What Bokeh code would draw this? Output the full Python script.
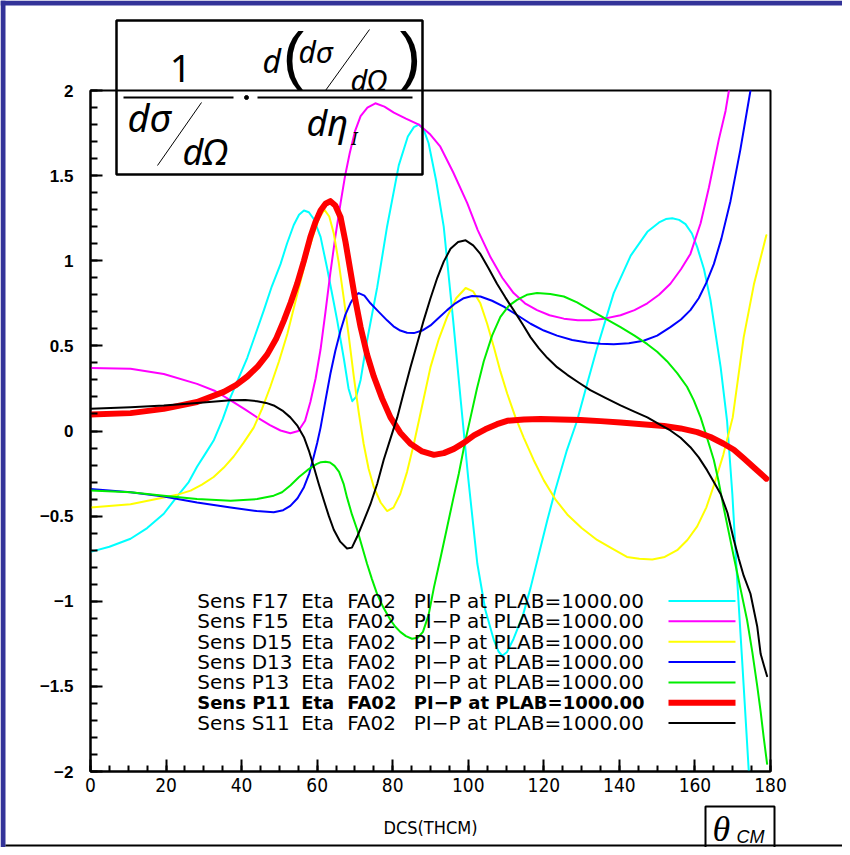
from bokeh.plotting import figure
from bokeh.layouts import column
from bokeh.models import Range1d, FixedTicker, Label, Arrow
from bokeh.core.properties import value
from bokeh.embed import file_html
from bokeh.resources import INLINE

# ---------------- data ----------------
series_names = ["F17", "F15", "D15", "D13", "P13", "P11", "S11"]

f17_x = [0, 5, 10.6, 15, 19.4, 22.9, 26, 28.2, 30.5, 32.6, 35, 37.1, 39.3, 41.5, 43.7, 45.9, 48,
         50.3, 52, 53.8, 55.2, 56.5, 57.8, 59.1, 60.9, 62.6, 64, 65.3, 67.1, 68.3, 69.3, 70.3, 71.5,
         73.2, 75.9, 78.5, 81.6, 84.0, 85.6, 86.9, 88.2, 89.5, 91.5, 93.5, 96.0, 98.0, 100.0, 102.4,
         104.5, 106.8, 108, 109.0, 110.2, 112.0, 114.5, 116.5, 118.5, 120.9, 123.0, 126.0, 128.8,
         131.5, 134.0, 138.5, 143.0, 147.4, 150.5, 152.3, 154.0, 155.8, 157.5, 159.2, 160.6, 162.4,
         164.1, 166.8, 168.5, 169.9, 171.2, 172.5, 174.2, 174.6]
f17_y = [-0.71, -0.68, -0.633, -0.57, -0.486, -0.385, -0.30, -0.21, -0.13, -0.056, 0.07, 0.20, 0.315,
         0.43, 0.57, 0.71, 0.85, 0.98, 1.10, 1.21, 1.27, 1.295, 1.285, 1.245, 1.14, 0.96, 0.80, 0.65,
         0.42, 0.25, 0.175, 0.20, 0.30, 0.53, 0.845, 1.20, 1.56, 1.73, 1.785, 1.80, 1.77, 1.69, 1.47,
         1.20, 0.65, 0.18, -0.28, -0.78, -1.05, -1.23, -1.295, -1.32, -1.30, -1.22, -1.08, -0.92,
         -0.74, -0.526, -0.35, -0.12, 0.06, 0.28, 0.48, 0.81, 1.03, 1.17, 1.225, 1.245, 1.25, 1.24,
         1.215, 1.16, 1.08, 0.95, 0.77, 0.375, 0.06, -0.37, -0.88, -1.35, -1.98, -2.10]

f15_x = [0, 10.6, 19.4, 28.2, 33, 37.1, 41, 44.1, 47.5, 50.3, 52.9, 55.0, 56.8, 58.2, 59.6, 60.9,
         62.2, 63.5, 64.8, 66.2, 67.4, 68.6, 70, 71.5, 73.3, 75.4, 77.8, 80.3, 83.5, 86.9, 89.8,
         92.6, 96.0, 99.7, 102.5, 105.9, 109, 112.0, 115, 118.2, 121.5, 125.3, 129, 132.3, 136,
         140.3, 144, 147.4, 150.5, 153.5, 156.3, 158.8, 161.5, 163.7, 166.3, 168.1, 169.0, 169.4]
f15_y = [0.37, 0.365, 0.335, 0.277, 0.235, 0.18, 0.125, 0.08, 0.035, 0.003, -0.013, 0.0, 0.06, 0.17,
         0.31, 0.48, 0.70, 0.93, 1.14, 1.34, 1.50, 1.63, 1.76, 1.85, 1.90, 1.925, 1.905, 1.87, 1.835,
         1.80, 1.745, 1.67, 1.52, 1.34, 1.18, 1.02, 0.90, 0.81, 0.75, 0.71, 0.68, 0.66, 0.65, 0.65,
         0.66, 0.68, 0.71, 0.75, 0.80, 0.865, 0.95, 1.04, 1.22, 1.43, 1.71, 1.88, 2.0, 2.06]

d15_x = [0, 10.6, 19.4, 22.9, 26.5, 29.5, 32.6, 35.3, 37.9, 40.5, 43.2, 45.4, 47.6, 49.9, 52.1,
         53.9, 55.6, 57.3, 59.1, 60.5, 61.9, 63.2, 64.4, 65.7, 67.1, 68.4, 69.7, 71, 72.3, 73.6,
         75.0, 76.8, 78.5, 80.2, 82.0, 83.8, 85.6, 87.8, 90.0, 92.2, 94.4, 96.8, 99.3, 101.3, 103.2,
         105, 106.8, 108.5, 110.3, 112.5, 114.7, 117.3, 120.0, 123, 126.2, 130, 134.1, 138, 142.0,
         145.3, 148.7, 152, 155.3, 158, 160.6, 163, 165.0, 167.5, 170.0, 172.9, 175.6, 178.9]
d15_y = [-0.45, -0.43, -0.39, -0.375, -0.35, -0.315, -0.27, -0.215, -0.15, -0.07, 0.02, 0.13, 0.26,
         0.41, 0.57, 0.73, 0.88, 1.03, 1.16, 1.25, 1.30, 1.26, 1.16, 0.99, 0.77, 0.55, 0.32, 0.11,
         -0.075, -0.22, -0.33, -0.42, -0.47, -0.45, -0.37, -0.24, -0.075, 0.15, 0.375, 0.54, 0.67,
         0.78, 0.84, 0.82, 0.75, 0.63, 0.49, 0.35, 0.22, 0.08, -0.04, -0.17, -0.29, -0.40, -0.49,
         -0.57, -0.64, -0.69, -0.74, -0.75, -0.755, -0.74, -0.70, -0.64, -0.56, -0.45, -0.32, -0.14,
         0.08, 0.55, 0.86, 1.15]

d13_x = [0, 10.6, 19.4, 28.2, 37.1, 44.0, 48.5, 51, 52.9, 54.8, 56.5, 57.9, 59.1, 60.0, 60.9, 62.2,
         63.5, 64.8, 66.2, 67.5, 68.8, 70.0, 71.0, 72.5, 74.1, 76.3, 78.5, 80.2, 82.0, 83.8, 85.6,
         87.8, 90.0, 92.2, 94.4, 96.6, 98.8, 101, 103.2, 106.3, 109.4, 113, 116.5, 120, 123.5, 127.5,
         131.5, 135, 138.5, 142.5, 146.4, 150, 153.5, 156.3, 158.8, 161, 163.0, 165.0, 167.0, 169.4,
         172.0, 174.7, 175.0]
d13_y = [-0.34, -0.36, -0.385, -0.42, -0.45, -0.47, -0.477, -0.465, -0.44, -0.395, -0.33, -0.25,
         -0.15, -0.07, 0.02, 0.18, 0.336, 0.47, 0.59, 0.685, 0.75, 0.795, 0.81, 0.795, 0.75, 0.70,
         0.65, 0.615, 0.59, 0.577, 0.575, 0.59, 0.62, 0.665, 0.71, 0.75, 0.78, 0.793, 0.79, 0.765,
         0.73, 0.68, 0.63, 0.59, 0.56, 0.535, 0.52, 0.512, 0.51, 0.515, 0.53, 0.56, 0.61, 0.655,
         0.71, 0.78, 0.87, 0.98, 1.13, 1.35, 1.65, 2.0, 2.05]

p13_x = [0, 10.6, 19.4, 28.2, 37.1, 44.1, 48.5, 50.7, 52.9, 55.2, 57.4, 59.8, 61, 62.2, 63.4, 64.6,
         65.8, 67.0, 67.9, 69.2, 70.6, 71.9, 73.2, 74.5, 75.9, 77.6, 79.4, 80.7, 82.0, 83.5, 85.1,
         86.6, 88.0, 89.5, 90.9, 92.7, 94.4, 96.0, 97.5, 99.0, 100.6, 102.3, 104.1, 106.3, 108.5,
         110.7, 112.9, 115.5, 118.2, 121.7, 125.3, 128.8, 132.3, 136.3, 140.3, 144, 147.4, 150,
         152.6, 155.3, 157.9, 159.7, 161.5, 163.2, 165.0, 166.3, 167.6, 169, 170.3, 172, 173.8,
         175.2, 176.5, 177.4, 178.2, 179.1]
p13_y = [-0.35, -0.36, -0.38, -0.40, -0.41, -0.40, -0.38, -0.36, -0.32, -0.27, -0.23, -0.195, -0.183,
         -0.18, -0.185, -0.205, -0.24, -0.31, -0.39, -0.49, -0.58, -0.68, -0.78, -0.87, -0.96, -1.04,
         -1.11, -1.15, -1.18, -1.205, -1.22, -1.215, -1.18, -1.08, -0.92, -0.74, -0.565, -0.40,
         -0.25, -0.08, 0.08, 0.25, 0.41, 0.56, 0.67, 0.735, 0.77, 0.80, 0.81, 0.805, 0.79, 0.755,
         0.71, 0.66, 0.61, 0.56, 0.51, 0.465, 0.41, 0.34, 0.26, 0.18, 0.08, -0.04, -0.17, -0.30,
         -0.45, -0.60, -0.74, -0.92, -1.11, -1.30, -1.50, -1.65, -1.80, -1.955]

p11_x = [0, 10.6, 19.4, 28.2, 35.3, 38.5, 41.5, 44.3, 46.8, 49.1, 51.2, 53.0, 54.7, 56.5, 58.2, 59.6,
         60.9, 62.2, 63.5, 64.8, 66.2, 67.5, 68.8, 70.1, 71.5, 73.2, 75.0, 77.2, 79.4, 82, 84.7, 87.8,
         90.9, 93.5, 96.2, 98.8, 101.5, 104.5, 107.6, 110.3, 114.7, 119.1, 124.4, 129.7, 135, 140.3,
         146, 151.8, 156.2, 160.6, 164.1, 167.6, 170.3, 172.9, 175.9, 178.9]
p11_y = [0.097, 0.105, 0.13, 0.17, 0.23, 0.27, 0.32, 0.38, 0.45, 0.54, 0.65, 0.755, 0.865, 1.0, 1.14,
         1.23, 1.295, 1.335, 1.35, 1.325, 1.255, 1.11, 0.94, 0.77, 0.61, 0.45, 0.32, 0.19, 0.08,
         -0.01, -0.075, -0.12, -0.14, -0.13, -0.105, -0.07, -0.026, 0.01, 0.04, 0.06, 0.067, 0.07,
         0.068, 0.065, 0.058, 0.05, 0.04, 0.03, 0.015, -0.007, -0.035, -0.075, -0.11, -0.16, -0.22,
         -0.28]

s11_x = [0, 10.6, 19.4, 28.2, 37.1, 41, 44.1, 46.5, 48.5, 50.8, 52.9, 54.8, 56.5, 57.8, 59.1, 60.4,
         61.8, 63.1, 64.4, 66.1, 67.9, 69.2, 70.6, 72.3, 74.1, 75.9, 77.6, 79.4, 81.2, 82.9, 84.7,
         86.5, 88.2, 90, 91.8, 93.5, 95.3, 97.3, 99.3, 101.3, 103.2, 105.4, 107.6, 109.8, 112.0,
         114.3, 116.5, 118.7, 120.9, 123.5, 126.2, 129.2, 132.3, 136.3, 140.3, 143.8, 147.4, 150.5,
         153.5, 156.2, 158.8, 161, 163.2, 165, 166.8, 168.6, 170.3, 171.6, 172.9, 174.7, 176.5,
         177.4, 178.3, 179.1]
s11_y = [0.13, 0.14, 0.15, 0.165, 0.18, 0.182, 0.175, 0.165, 0.15, 0.12, 0.08, 0.03, -0.036, -0.115,
         -0.21, -0.31, -0.41, -0.50, -0.58, -0.65, -0.69, -0.685, -0.62, -0.53, -0.43, -0.31, -0.17,
         -0.045, 0.08, 0.225, 0.375, 0.515, 0.65, 0.78, 0.90, 0.995, 1.07, 1.11, 1.12, 1.09, 1.04,
         0.955, 0.865, 0.785, 0.71, 0.63, 0.55, 0.485, 0.43, 0.375, 0.33, 0.285, 0.24, 0.195, 0.15,
         0.115, 0.08, 0.04, 0.003, -0.04, -0.095, -0.155, -0.23, -0.30, -0.37, -0.48, -0.64, -0.75,
         -0.85, -0.956, -1.15, -1.31, -1.38, -1.44]

x_tick_values = [0, 20, 40, 60, 80, 100, 120, 140, 160, 180]
x_tick_labels = ["0", "20", "40", "60", "80", "100", "120", "140", "160", "180"]
y_tick_values = [-2, -1.5, -1, -0.5, 0, 0.5, 1, 1.5, 2]
y_tick_labels = ["\u22122", "\u22121.5", "\u22121", "\u22120.5", "0", "0.5", "1", "1.5", "2"]

legend_prefix = "Sens"
legend_wave = "Eta"
legend_fa = "FA02"
legend_tail = "PI\u2212P at PLAB=1000.00"
x_axis_title = "DCS(THCM)"

# ---------------- style ----------------
colors = ["#00FFFF", "#FF00FF", "#FFFF00", "#0000FF", "#00EE00", "#FF0000", "#000000"]
widths = [2, 2, 2, 2, 2, 6, 2]
xs = [f17_x, f15_x, d15_x, d13_x, p13_x, p11_x, s11_x]
ys = [f17_y, f15_y, d15_y, d13_y, p13_y, p11_y, s11_y]

W, H = 842, 847
FRAME_L, FRAME_R, FRAME_T, FRAME_B = 90, 770, 90, 771

fig = figure(width=W, height=H, output_backend="svg", toolbar_location=None,
             x_range=Range1d(0, 180), y_range=Range1d(-2, 2),
             min_border_left=FRAME_L, min_border_right=W - FRAME_R,
             min_border_top=FRAME_T, min_border_bottom=H - FRAME_B)
fig.background_fill_color = "white"
fig.border_fill_color = "white"
fig.outline_line_color = "black"
fig.outline_line_width = 2
fig.xgrid.visible = False
fig.ygrid.visible = False

TICK_FONT = "'DejaVu Sans Condensed', 'Liberation Sans Narrow', 'DejaVu Sans'"

xa = fig.xaxis[0]
xa.ticker = FixedTicker(ticks=x_tick_values, minor_ticks=list(range(0, 181, 5)))
xa.major_label_overrides = dict(zip(x_tick_values, x_tick_labels))
xa.axis_line_width = 2
xa.major_tick_in = 12
xa.major_tick_out = 0
xa.minor_tick_in = 6
xa.minor_tick_out = 0
xa.major_tick_line_width = 2
xa.minor_tick_line_width = 2
xa.major_label_standoff = 6
xa.major_label_text_font = TICK_FONT
xa.major_label_text_font_size = "19px"
xa.major_label_text_color = "black"
xa.axis_label = x_axis_title
xa.axis_label_text_font = TICK_FONT
xa.axis_label_text_font_size = "18px"
xa.axis_label_text_font_style = "normal"
xa.axis_label_text_color = "black"
xa.axis_label_standoff = 22

ya = fig.yaxis[0]
ya.ticker = FixedTicker(ticks=y_tick_values,
                        minor_ticks=[round(-2 + 0.1 * i, 1) for i in range(41)])
ya.major_label_overrides = dict(zip(y_tick_values, y_tick_labels))
ya.axis_line_width = 2
ya.major_tick_in = 12
ya.major_tick_out = 0
ya.minor_tick_in = 7
ya.minor_tick_out = 0
ya.major_tick_line_width = 2
ya.minor_tick_line_width = 2
ya.major_label_standoff = 17
ya.major_label_text_font = "'Liberation Sans', Arial"
ya.major_label_text_font_style = "bold"
ya.major_label_text_font_size = "17px"
ya.major_label_text_color = "black"

for x, y, c, w in zip(xs, ys, colors, widths):
    fig.line(x, y, line_color=c, line_width=w, line_join="round", line_cap="round")

# ---------------- legend (text left, sample line right) ----------------
LEG_FONT = "'DejaVu Sans'"
row0, drow = 600.5, 20.35
for i, (nm, c, w) in enumerate(zip(series_names, colors, widths)):
    yy = row0 + i * drow
    bold = nm == "P11"
    for tx, xx in [(f"{legend_prefix} {nm}", 196.7), (legend_wave, 300.7),
                   (legend_fa, 346.7), (legend_tail, 413.3)]:
        fig.add_layout(Label(x=xx, y=yy, x_units="canvas", y_units="canvas", text=tx,
                             text_font=LEG_FONT,
                             text_font_size="18px" if bold else "20px",
                             text_font_style="bold" if bold else "normal",
                             text_baseline="middle", text_align="left", text_color="black"))
    fig.add_layout(Arrow(end=None, x_start=668, y_start=yy, x_end=735, y_end=yy,
                         start_units="canvas", end_units="canvas", line_color=c, line_width=w))

# ---------------- decoration layer (formula, theta box, page frame) ----------------
deco = figure(width=W, height=H, output_backend="svg", toolbar_location=None,
              x_range=Range1d(0, W), y_range=Range1d(H, 0),
              x_axis_location=None, y_axis_location=None, min_border=0)
deco.outline_line_color = None
deco.background_fill_alpha = 0
deco.border_fill_alpha = 0
deco.xgrid.visible = False
deco.ygrid.visible = False
deco.styles = {"position": "absolute", "top": "0px", "left": "0px", "pointer-events": "none"}
for f in (fig, deco):
    try:
        f.frame_align = False
    except Exception:
        pass


def txt(text, x, y, size, font="Noto Sans", style="italic", align="left"):
    # y is the visual centre of the text
    deco.text(x=[x], y=[y], text=[text], text_font=value(font), text_font_size=f"{size}px",
              text_font_style=style, text_align=align, text_baseline="middle",
              text_color="black")


def seg(x0, y0, x1, y1, w=1.5):
    deco.segment(x0=[x0], y0=[y0], x1=[x1], y1=[y1], line_color="black", line_width=w)


# formula box
deco.quad(left=[116], right=[422], top=[20], bottom=[174], fill_alpha=0,
          line_color="black", line_width=2.5)
txt("1", 180, 68, 38, style="normal", align="center")
seg(123, 97, 233, 97, 2)
seg(257, 97, 412, 97, 2)
deco.scatter(x=[246], y=[97], size=4, color="black")
txt("d", 262, 60, 32)
txt("(", 293, 55, 64, font="Liberation Sans", style="normal", align="center")
txt("d\u03c3", 298, 51, 30)
seg(325, 90, 369, 29, 1)
txt("d\u03a9", 350, 79, 29)
txt(")", 410, 55, 64, font="Liberation Sans", style="normal", align="center")
txt("d\u03c3", 127, 116, 38)
seg(157, 165, 201, 102, 1)
txt("d\u03a9", 182, 151, 36)
txt("d\u03b7", 306, 122, 36)
txt("I", 351, 137, 18)

# theta_CM box
deco.quad(left=[705], right=[774], top=[806], bottom=[870], fill_alpha=0,
          line_color="black", line_width=2)
txt("\u03b8", 712, 828, 36, font="Liberation Serif")
txt("CM", 736, 836, 18, font="Liberation Sans")

# page frame
deco.quad(left=[0], right=[5], top=[0], bottom=[H], fill_color="#333399", line_alpha=0)
deco.quad(left=[0], right=[W], top=[0], bottom=[5], fill_color="#333399", line_alpha=0)
deco.quad(left=[5], right=[W], top=[H - 3], bottom=[H - 1], fill_color="black", line_alpha=0)

p = column(fig, deco, width=W, height=H)
p.styles = {"overflow": "hidden"}
open("out.html", "w").write(file_html(p, INLINE))
